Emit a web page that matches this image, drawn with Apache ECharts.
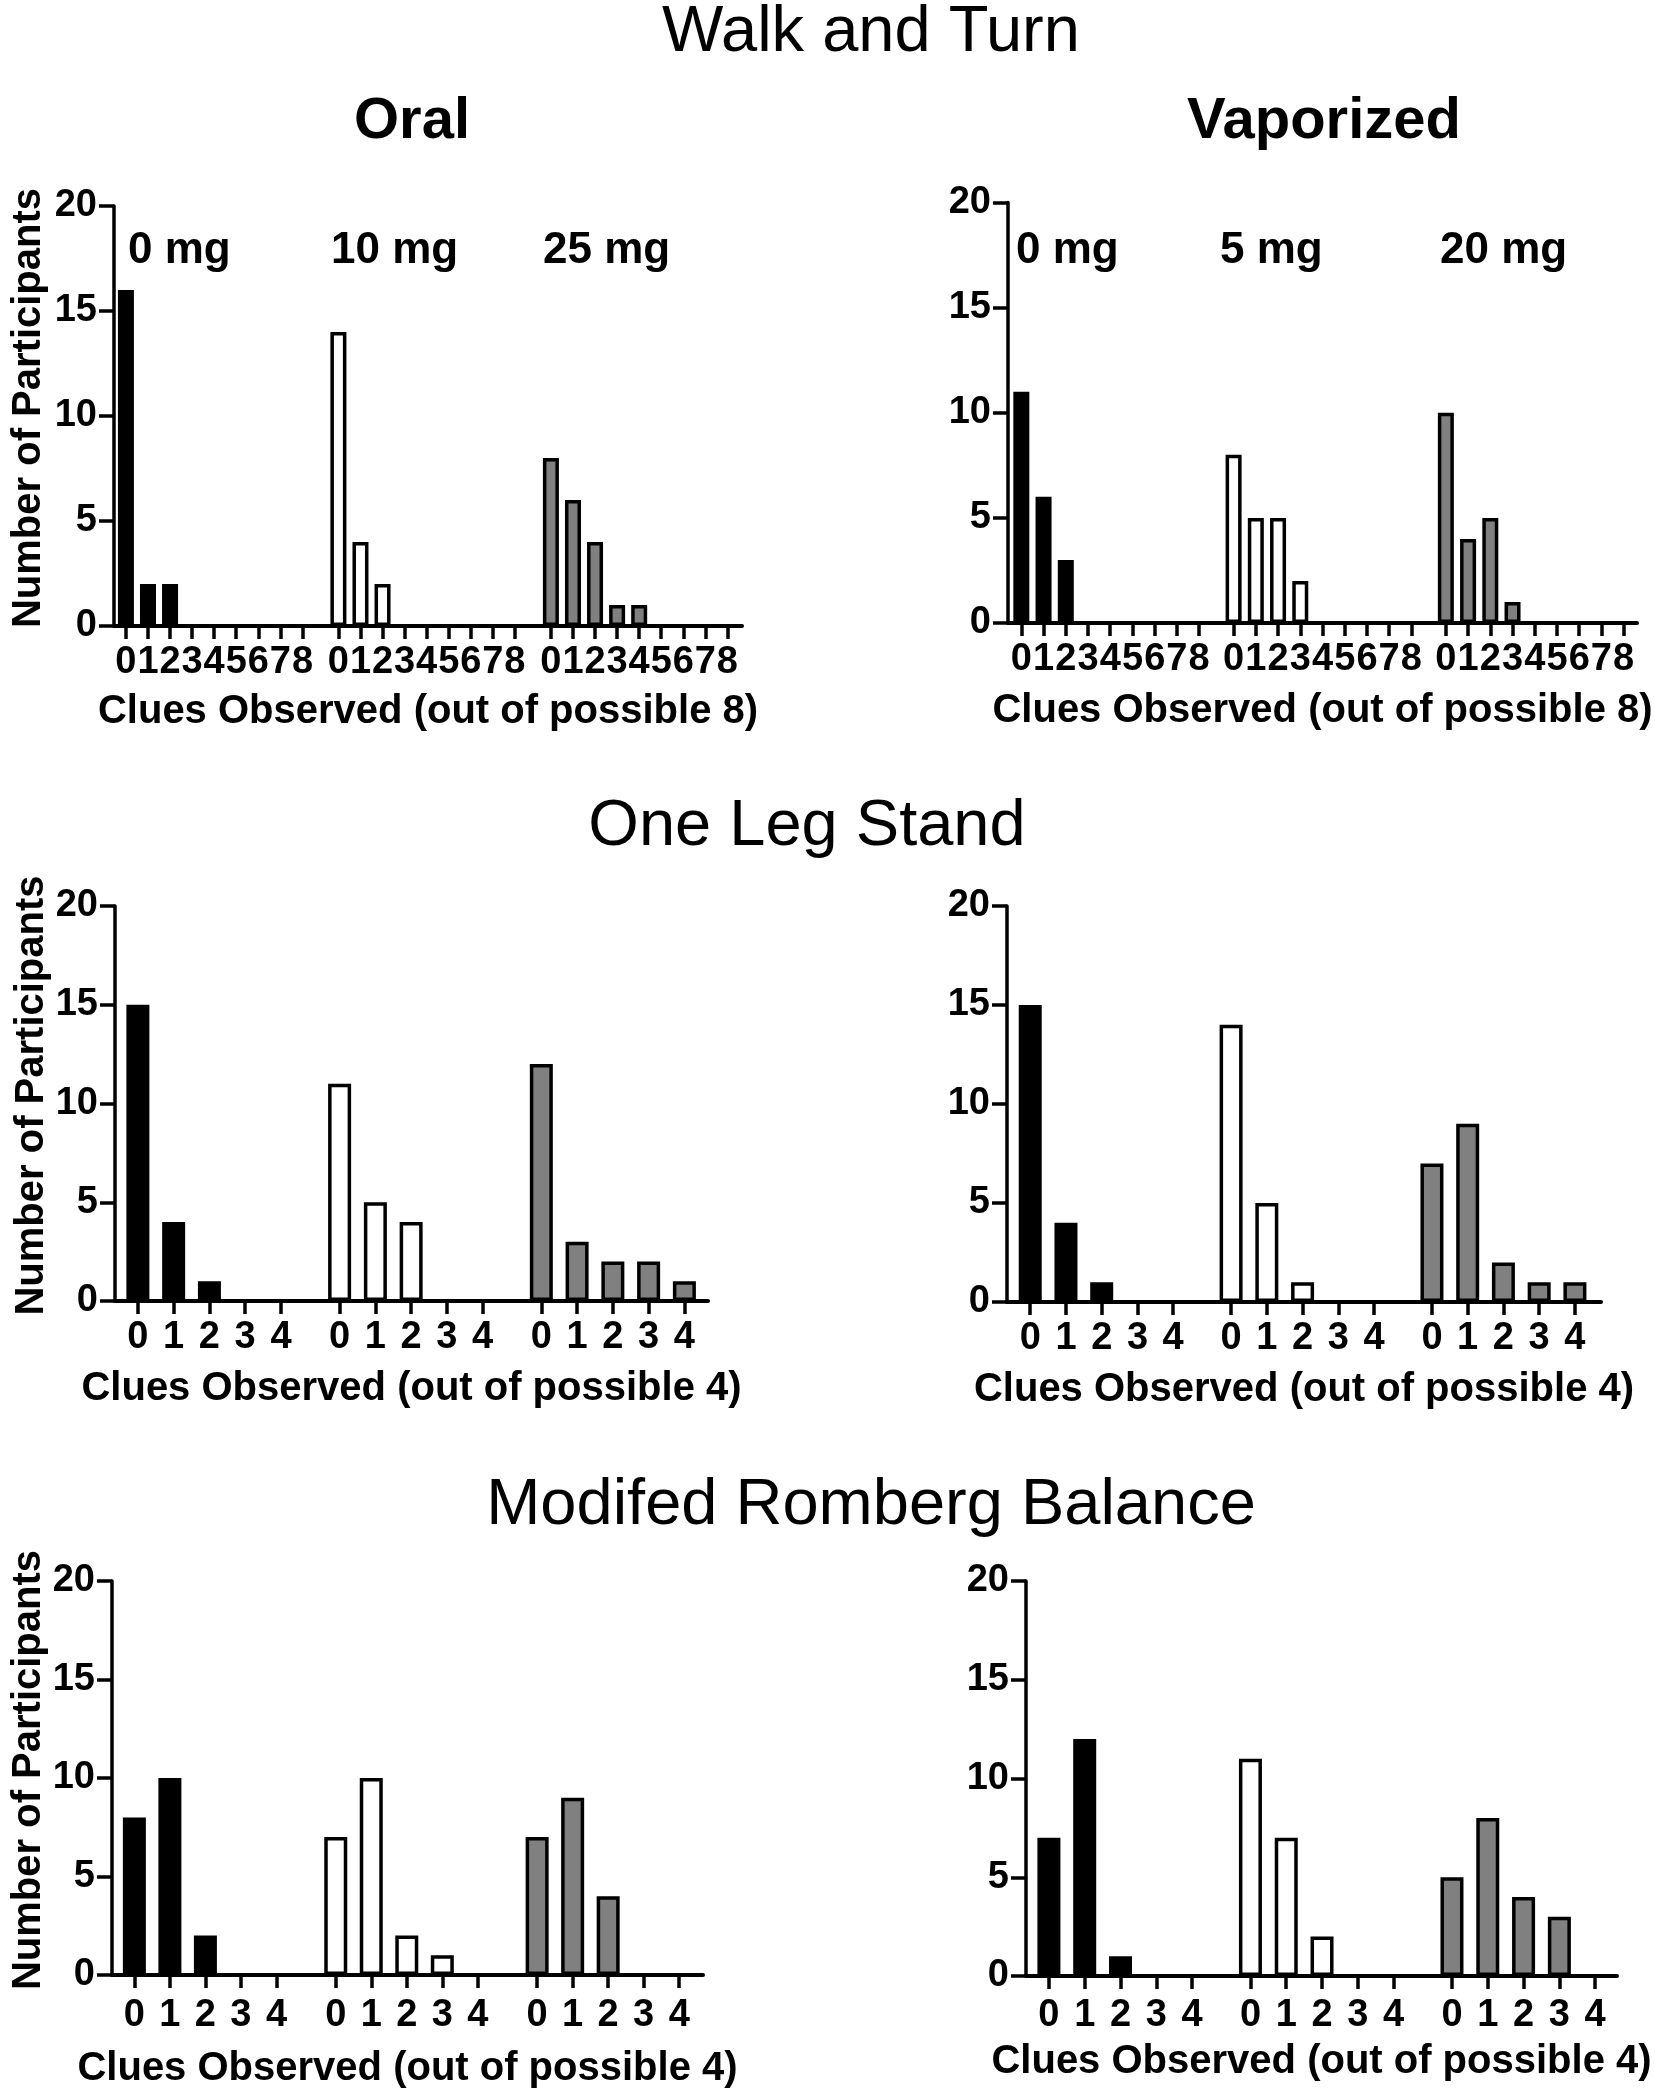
<!DOCTYPE html>
<html>
<head>
<meta charset="utf-8">
<script src="https://cdn.jsdelivr.net/npm/echarts@6/dist/echarts.min.js"></script>
<style>
html,body{margin:0;padding:0;background:#fff;}
#chart{width:1655px;height:2090px;}
</style>
</head>
<body>
<div id="chart"></div>
<script>
// ---------- DATA ----------
const clues8 = ['0','1','2','3','4','5','6','7','8'];
const clues4 = ['0','1','2','3','4'];
const yTicks = [0, 5, 10, 15, 20];
const oralDoses = ['0 mg', '10 mg', '25 mg'];
const vapDoses = ['0 mg', '5 mg', '20 mg'];
const rowTitles = ['Walk and Turn', 'One Leg Stand', 'Modifed Romberg Balance'];
const colTitles = ['Oral', 'Vaporized'];

// Walk and Turn (out of 8)
const wat_oral_0mg  = [16, 2, 2, 0, 0, 0, 0, 0, 0];
const wat_oral_10mg = [14, 4, 2, 0, 0, 0, 0, 0, 0];
const wat_oral_25mg = [8, 6, 4, 1, 1, 0, 0, 0, 0];
const wat_vap_0mg   = [11, 6, 3, 0, 0, 0, 0, 0, 0];
const wat_vap_5mg   = [8, 5, 5, 2, 0, 0, 0, 0, 0];
const wat_vap_20mg  = [10, 4, 5, 1, 0, 0, 0, 0, 0];
// One Leg Stand (out of 4)
const ols_oral_0mg  = [15, 4, 1, 0, 0];
const ols_oral_10mg = [11, 5, 4, 0, 0];
const ols_oral_25mg = [12, 3, 2, 2, 1];
const ols_vap_0mg   = [15, 4, 1, 0, 0];
const ols_vap_5mg   = [14, 5, 1, 0, 0];
const ols_vap_20mg  = [7, 9, 2, 1, 1];
// Modified Romberg Balance (out of 4)
const mrb_oral_0mg  = [8, 10, 2, 0, 0];
const mrb_oral_10mg = [7, 10, 2, 1, 0];
const mrb_oral_25mg = [7, 9, 4, 0, 0];
const mrb_vap_0mg   = [7, 12, 1, 0, 0];
const mrb_vap_5mg   = [11, 7, 2, 0, 0];
const mrb_vap_20mg  = [5, 8, 4, 3, 0];

// ---------- LAYOUT ----------
const FONT = 'Liberation Sans, Arial, Helvetica, sans-serif';
const groupFills = ['#000000', '#ffffff', '#808080'];
const xName8 = 'Clues Observed (out of possible 8)';
const xName4 = 'Clues Observed (out of possible 4)';
const yName = 'Number of Participants';

const panels = [
  {groups: [wat_oral_0mg, wat_oral_10mg, wat_oral_25mg], ticks: clues8, xName: xName8, showYName: true,
   grid: {left: 114, top: 206, width: 628, height: 420}, xmin: -0.54, xmax: 27.92, G: 9.63,
   barWidth: 16, labelMargin: 18, nameGap: 66, yNameGap: 65},
  {groups: [wat_vap_0mg, wat_vap_5mg, wat_vap_20mg], ticks: clues8, xName: xName8, showYName: false,
   grid: {left: 1008, top: 202.5, width: 629, height: 420.5}, xmin: -0.6, xmax: 27.7, G: 9.55,
   barWidth: 16, labelMargin: 18, nameGap: 68, yNameGap: 59},
  {groups: [ols_oral_0mg, ols_oral_10mg, ols_oral_25mg], ticks: clues4, xName: xName4, showYName: true,
   grid: {left: 115, top: 906, width: 593, height: 395}, xmin: -0.64, xmax: 15.94, G: 5.64,
   barWidth: 23, labelMargin: 18, nameGap: 68, yNameGap: 53},
  {groups: [ols_vap_0mg, ols_vap_5mg, ols_vap_20mg], ticks: clues4, xName: xName4, showYName: false,
   grid: {left: 1007, top: 906, width: 594, height: 396}, xmin: -0.65, xmax: 15.97, G: 5.62,
   barWidth: 23, labelMargin: 18, nameGap: 68, yNameGap: 53},
  {groups: [mrb_oral_0mg, mrb_oral_10mg, mrb_oral_25mg], ticks: clues4, xName: xName4, showYName: true,
   grid: {left: 112, top: 1581, width: 591, height: 395}, xmin: -0.63, xmax: 16.01, G: 5.67,
   barWidth: 23, labelMargin: 22, nameGap: 74, yNameGap: 50},
  {groups: [mrb_vap_0mg, mrb_vap_5mg, mrb_vap_20mg], ticks: clues4, xName: xName4, showYName: false,
   grid: {left: 1026, top: 1581, width: 591, height: 395}, xmin: -0.64, xmax: 15.87, G: 5.63,
   barWidth: 23, labelMargin: 21, nameGap: 66, yNameGap: 50}
];

const grids = [], xAxes = [], yAxes = [], series = [];

panels.forEach((p, i) => {
  grids.push(Object.assign({containLabel: false}, p.grid));
  const pos = [], labelMap = {};
  p.groups.forEach((vals, g) => {
    p.ticks.forEach((t, c) => {
      const x = +(g * p.G + c).toFixed(4);
      pos.push(x);
      labelMap[x.toFixed(4)] = t;
    });
  });
  xAxes.push({
    type: 'value', gridIndex: i, min: p.xmin, max: p.xmax,
    splitLine: {show: false},
    axisLine: {show: true, onZero: false, lineStyle: {color: '#000', width: 4}},
    axisTick: {show: true, customValues: pos, length: 13, inside: false, lineStyle: {color: '#000', width: 3.5}},
    axisLabel: {show: true, customValues: pos, margin: p.labelMargin, color: '#000',
      fontFamily: FONT, fontWeight: 'bold', fontSize: 38,
      formatter: v => labelMap[(+v).toFixed(4)] ?? ''},
    name: p.xName, nameLocation: 'middle', nameGap: p.nameGap,
    nameTextStyle: {color: '#000', fontFamily: FONT, fontWeight: 'bold', fontSize: 40}
  });
  yAxes.push({
    type: 'value', gridIndex: i, min: yTicks[0], max: yTicks[yTicks.length - 1], interval: yTicks[1] - yTicks[0],
    splitLine: {show: false},
    axisLine: {show: true, onZero: false, lineStyle: {color: '#000', width: 3.5}},
    axisTick: {show: true, length: 15, inside: false, lineStyle: {color: '#000', width: 3.5}},
    axisLabel: {margin: 17, color: '#000', fontFamily: FONT, fontWeight: 'bold', fontSize: 38},
    name: p.showYName ? yName : '', nameLocation: 'middle', nameGap: p.yNameGap, nameRotate: 90,
    nameTextStyle: {color: '#000', fontFamily: FONT, fontWeight: 'bold', fontSize: 40, padding: [0, 0, 0, 16]}
  });
  p.groups.forEach((vals, g) => {
    series.push({
      type: 'bar', xAxisIndex: i, yAxisIndex: i,
      barWidth: p.barWidth, barGap: '-100%',
      itemStyle: {color: groupFills[g], borderColor: '#000', borderWidth: 3.5},
      data: vals.map((v, c) => [g * p.G + c, v]),
      silent: true, animation: false
    });
  });
});

// ---------- TEXT ----------
const titles = [];
const bigTitle = (text, cx, top) => ({text, left: cx, top, textAlign: 'center', padding: 0,
  textStyle: {fontFamily: FONT, fontWeight: 'normal', fontSize: 65, color: '#000'}});
titles.push(bigTitle(rowTitles[0], 871, 1));
titles.push(bigTitle(rowTitles[1], 807, 795));
titles.push(bigTitle(rowTitles[2], 871, 1474));
const colTitle = (text, cx) => ({text, left: cx, top: 93, textAlign: 'center', padding: 0,
  textStyle: {fontFamily: FONT, fontWeight: 'bold', fontSize: 58, color: '#000'}});
titles.push(colTitle(colTitles[0], 412));
titles.push(colTitle(colTitles[1], 1324));
const doseLeft = [[128, 331, 543], [1016, 1220, 1440]];
[oralDoses, vapDoses].forEach((doses, k) => {
  doses.forEach((d, g) => {
    titles.push({text: d, left: doseLeft[k][g], top: 229, textAlign: 'left', padding: 0,
      textStyle: {fontFamily: FONT, fontWeight: 'bold', fontSize: 44, color: '#000'}});
  });
});

const chart = echarts.init(document.getElementById('chart'), null, {renderer: 'canvas'});
chart.setOption({
  backgroundColor: '#ffffff',
  animation: false,
  title: titles,
  grid: grids,
  xAxis: xAxes,
  yAxis: yAxes,
  series: series
});
</script>
</body>
</html>
